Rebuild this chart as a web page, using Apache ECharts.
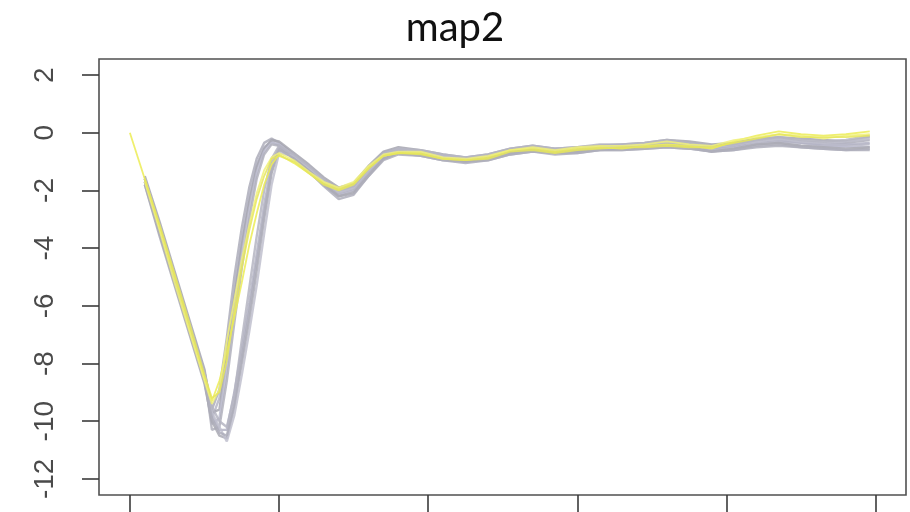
<!DOCTYPE html>
<html>
<head>
<meta charset="utf-8">
<title>map2</title>
<script src="https://cdn.jsdelivr.net/npm/echarts@6/dist/echarts.min.js"></script>
<style>
  html, body { margin: 0; padding: 0; background: #ffffff; }
  #chart { width: 910px; height: 512px; }
</style>
</head>
<body>
<div id="chart"></div>
<script>
// Sample positions along the trace (index units)
const sampleX = [0, 10, 20, 30, 40, 50, 55, 60, 65, 70, 75, 80, 85, 90, 95, 100, 110, 120, 130, 140,
  150, 160, 170, 180, 195, 210, 225, 240, 255, 270, 285, 300, 315, 330, 345, 360, 375, 390, 405, 420,
  435, 450, 465, 480, 496];

// Tick positions
const xTicks = [0, 100, 200, 300, 400, 500];
const yTicks = [2, 0, -2, -4, -6, -8, -10, -12];

// Grey traces (early recovery)
const gray01 = [null, -1.6, -3.2, -4.9, -6.6, -8.3, -9.6, -8.9, -7.1, -5.0, -3.3, -1.9, -0.9, -0.35, -0.2, -0.35, -0.75, -1.15, -1.6, -1.95,
  -1.85, -1.25, -0.7, -0.55, -0.65, -0.8, -0.9, -0.8, -0.6, -0.5, -0.6, -0.55, -0.45, -0.45, -0.4, -0.3, -0.35, -0.45, -0.4, -0.25,
  -0.2, -0.3, -0.35, -0.35, -0.25];
const gray02 = [null, -1.7, -3.4, -5.1, -6.8, -8.5, -9.9, -9.2, -7.5, -5.4, -3.7, -2.2, -1.1, -0.5, -0.3, -0.45, -0.85, -1.3, -1.7, -2.05,
  -1.9, -1.3, -0.8, -0.6, -0.7, -0.85, -0.95, -0.85, -0.65, -0.55, -0.65, -0.6, -0.55, -0.5, -0.45, -0.35, -0.4, -0.55, -0.5, -0.35,
  -0.3, -0.35, -0.45, -0.45, -0.4];
const gray03 = [null, -1.5, -3.1, -4.8, -6.5, -8.2, -9.7, -9.6, -7.8, -5.7, -3.9, -2.4, -1.2, -0.55, -0.25, -0.3, -0.7, -1.1, -1.55, -1.9,
  -1.75, -1.15, -0.65, -0.5, -0.6, -0.75, -0.85, -0.75, -0.55, -0.45, -0.55, -0.5, -0.45, -0.4, -0.35, -0.25, -0.3, -0.4, -0.35, -0.2,
  -0.15, -0.2, -0.25, -0.3, -0.15];
const gray04 = [null, -1.8, -3.5, -5.2, -6.9, -8.6, -10.1, -9.9, -8.2, -6.1, -4.3, -2.7, -1.4, -0.65, -0.35, -0.4, -0.8, -1.25, -1.75, -2.15,
  -2.0, -1.4, -0.85, -0.65, -0.75, -0.9, -1.0, -0.9, -0.7, -0.6, -0.7, -0.65, -0.6, -0.55, -0.5, -0.45, -0.5, -0.6, -0.55, -0.4,
  -0.35, -0.45, -0.5, -0.5, -0.5];
const gray05 = [null, -1.6, -3.3, -5.0, -6.7, -8.4, -10.3, -10.2, -8.6, -6.6, -4.7, -3.0, -1.6, -0.75, -0.4, -0.45, -0.9, -1.35, -1.8, -2.2,
  -2.05, -1.45, -0.9, -0.7, -0.8, -0.95, -1.0, -0.95, -0.75, -0.65, -0.75, -0.7, -0.6, -0.6, -0.55, -0.5, -0.55, -0.65, -0.6, -0.45,
  -0.4, -0.5, -0.55, -0.6, -0.55];

// Grey traces (late recovery)
const gray06 = [null, -1.7, -3.4, -5.1, -6.8, -8.5, -9.8, -10.3, -10.3, -9.0, -7.5, -5.9, -4.2, -2.5, -1.1, -0.5, -0.8, -1.2, -1.7, -2.1,
  -1.95, -1.35, -0.8, -0.6, -0.7, -0.85, -0.9, -0.8, -0.6, -0.55, -0.6, -0.6, -0.5, -0.5, -0.4, -0.35, -0.45, -0.55, -0.45, -0.3,
  -0.25, -0.35, -0.4, -0.4, -0.35];
const gray07 = [null, -1.8, -3.6, -5.3, -7.0, -8.7, -10.0, -10.5, -10.6, -9.5, -8.0, -6.5, -4.8, -3.0, -1.4, -0.6, -0.85, -1.3, -1.8, -2.2,
  -2.1, -1.5, -0.9, -0.7, -0.75, -0.9, -1.0, -0.9, -0.7, -0.6, -0.7, -0.65, -0.55, -0.55, -0.5, -0.45, -0.5, -0.65, -0.55, -0.4,
  -0.35, -0.45, -0.5, -0.55, -0.5];
const gray08 = [null, -1.6, -3.3, -5.0, -6.7, -8.4, -9.7, -10.2, -10.7, -9.8, -8.4, -6.9, -5.3, -3.5, -1.8, -0.7, -0.8, -1.2, -1.65, -2.05,
  -1.9, -1.3, -0.75, -0.55, -0.65, -0.8, -0.85, -0.8, -0.6, -0.5, -0.55, -0.55, -0.5, -0.45, -0.4, -0.3, -0.4, -0.5, -0.4, -0.3,
  -0.2, -0.3, -0.35, -0.3, -0.2];
const gray09 = [null, -1.7, -3.5, -5.2, -6.9, -8.6, -9.9, -10.4, -10.5, -9.4, -7.8, -6.2, -4.5, -2.8, -1.3, -0.55, -0.9, -1.35, -1.85, -2.3,
  -2.15, -1.5, -0.95, -0.75, -0.8, -0.95, -1.05, -0.95, -0.75, -0.65, -0.7, -0.7, -0.6, -0.6, -0.55, -0.5, -0.55, -0.65, -0.6, -0.5,
  -0.45, -0.5, -0.55, -0.6, -0.6];
const gray10 = [null, -1.6, -3.2, -4.9, -6.6, -8.3, -9.5, -10.0, -10.2, -9.1, -7.2, -5.4, -3.6, -2.0, -0.9, -0.45, -0.75, -1.15, -1.6, -2.0,
  -1.85, -1.25, -0.7, -0.55, -0.6, -0.75, -0.85, -0.75, -0.55, -0.45, -0.55, -0.5, -0.4, -0.4, -0.35, -0.25, -0.35, -0.45, -0.4, -0.25,
  -0.15, -0.25, -0.3, -0.25, -0.1];

// Yellow traces
const yellow01 = [0.0, -1.6, -3.3, -5.0, -6.8, -8.5, -9.3, -8.6, -7.6, -6.4, -5.2, -3.9, -2.8, -1.8, -1.1, -0.75, -1.05, -1.4, -1.75, -1.95,
  -1.75, -1.2, -0.8, -0.7, -0.7, -0.9, -0.95, -0.85, -0.6, -0.55, -0.65, -0.55, -0.5, -0.55, -0.45, -0.4, -0.45, -0.55, -0.3, -0.1,
  0.05, -0.05, -0.1, -0.05, 0.05];
const yellow02 = [null, -1.7, -3.4, -5.2, -6.9, -8.6, -9.4, -8.9, -7.2, -5.8, -4.4, -3.2, -2.1, -1.3, -0.85, -0.7, -0.95, -1.35, -1.7, -1.9,
  -1.7, -1.15, -0.75, -0.65, -0.65, -0.85, -0.9, -0.8, -0.6, -0.5, -0.6, -0.5, -0.45, -0.45, -0.4, -0.3, -0.4, -0.45, -0.25, -0.15,
  -0.05, -0.1, -0.2, -0.1, -0.05];
const yellow03 = [null, -1.6, -3.2, -4.9, -6.6, -8.4, -9.2, -9.0, -7.9, -6.2, -4.7, -3.4, -2.3, -1.5, -0.9, -0.8, -1.0, -1.4, -1.8, -2.0,
  -1.8, -1.25, -0.8, -0.7, -0.75, -0.9, -0.95, -0.9, -0.65, -0.6, -0.7, -0.6, -0.55, -0.5, -0.5, -0.45, -0.5, -0.5, -0.35, -0.2,
  -0.05, -0.15, -0.15, -0.15, -0.1];

const grayTraces = [gray01, gray02, gray03, gray04, gray05, gray06, gray07, gray08, gray09, gray10];
const yellowTraces = [yellow01, yellow02, yellow03];

function toPoints(values) {
  const pts = [];
  values.forEach(function (v, i) {
    if (v !== null) pts.push([sampleX[i], v]);
  });
  return pts;
}

function traceSeries(values, color, width) {
  return {
    type: 'line',
    data: toPoints(values),
    showSymbol: false,
    symbol: 'none',
    silent: true,
    lineStyle: { color: color, width: width, opacity: 0.85 },
    emphasis: { disabled: true }
  };
}

const grayShades = ['#adadba', '#b6b6c6', '#a6a6b0', '#bcbccf', '#b0b0bc',
                    '#b3b3c4', '#aaaab4', '#bfbfce', '#aeaebb', '#b5b5c2'];
const yellowShades = ['#ecec55', '#f0f07a', '#e6e65a'];

const series = [];
grayTraces.forEach(function (t, i) { series.push(traceSeries(t, grayShades[i], 2.4)); });
yellowTraces.forEach(function (t, i) { series.push(traceSeries(t, yellowShades[i], 1.8)); });

const chart = echarts.init(document.getElementById('chart'), null, { renderer: 'canvas' });
chart.setOption({
  animation: false,
  backgroundColor: '#ffffff',
  title: {
    text: 'map2',
    left: 'center',
    top: 3,
    textStyle: { fontFamily: 'Lato', fontWeight: 'normal', fontSize: 40, color: '#111111' }
  },
  grid: {
    left: 99, right: 4, top: 59, bottom: 17,
    containLabel: false,
    outerBoundsMode: 'none',
    show: true,
    borderColor: '#505050',
    borderWidth: 1.6,
    backgroundColor: '#ffffff'
  },
  xAxis: {
    type: 'value',
    min: -20.7,
    max: 520.3,
    position: 'bottom',
    axisLine: { show: false, onZero: false },
    splitLine: { show: false },
    axisLabel: { show: false },
    axisTick: {
      show: true,
      inside: false,
      length: 17,
      customValues: xTicks,
      lineStyle: { color: '#3a3a3a', width: 1.6 }
    }
  },
  yAxis: {
    type: 'value',
    min: -12.56,
    max: 2.56,
    position: 'left',
    axisLine: { show: false, onZero: false },
    splitLine: { show: false },
    axisTick: {
      show: true,
      inside: false,
      length: 17,
      customValues: yTicks,
      lineStyle: { color: '#3a3a3a', width: 1.6 }
    },
    axisLabel: {
      show: true,
      customValues: yTicks,
      rotate: 90,
      margin: 40,
      fontFamily: 'Liberation Sans',
      fontSize: 28,
      color: '#4a4a4a'
    }
  },
  series: series
});
</script>
</body>
</html>
